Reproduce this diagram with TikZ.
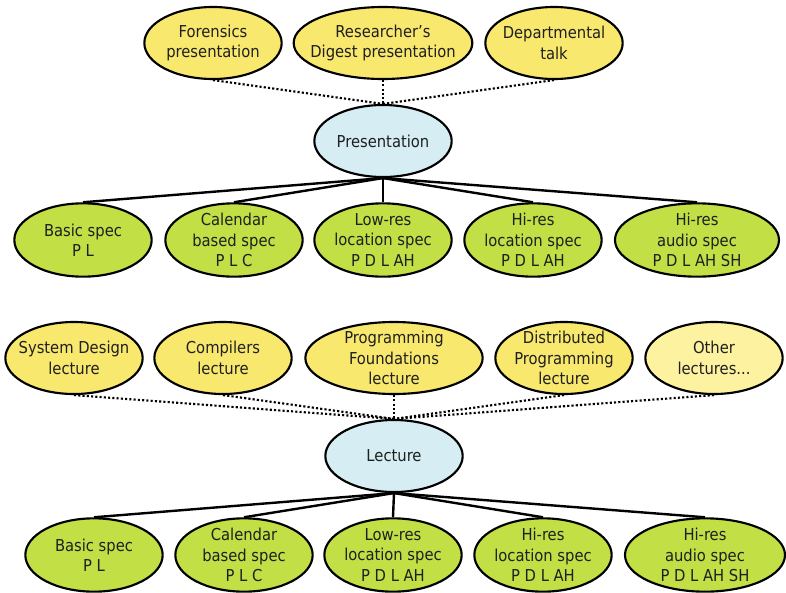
\documentclass[tikz,border=0pt]{standalone}
\usepackage{fontspec}
\setmainfont{DejaVu Sans Condensed}
\usetikzlibrary{shapes.geometric,positioning}
\definecolor{kindfill}{RGB}{249,232,110}
\definecolor{otherfill}{RGB}{253,242,160}
\definecolor{hubfill}{RGB}{214,238,243}
\definecolor{specfill}{RGB}{194,223,70}
\tikzset{blob/.style={ellipse, draw=black, line width=1.6pt, inner xsep=-12pt, inner ysep=-7pt, align=center, text=black!88, font=\fontsize{12.3}{15.2}\selectfont, minimum width=103pt, minimum height=54pt},
  kind/.style={blob, fill=kindfill},
  hub/.style={blob, fill=hubfill},
  spec/.style={blob, fill=specfill, minimum height=55pt},
  link/.style={line width=1.8pt},
  dotlink/.style={line width=1.6pt, dash pattern=on 1.6pt off 1.6pt}}

\begin{document}
\begin{tikzpicture}[x=0.75pt,y=-0.75pt]
    \useasboundingbox (0,0) rectangle (786,593);
    % presentation part
    \node[kind] (P1) at (213,43) {Forensics\\presentation};
    \node[kind,minimum width=134pt] (P2) at (383,43) {Researcher's\\Digest presentation};
    \node[kind] (P3) at (554,43) {Departmental\\talk};
    \node[hub] (Pres) at (383,141) {Presentation};
    \node[spec] (PS1) at (83,240) {Basic spec\\P L};
    \node[spec] (PS2) at (234,240) {Calendar\\based spec\\P L C};
    \node[spec] (PS3) at (383,240) {Low-res\\location spec\\P D L AH};
    \node[spec] (PS4) at (533,240) {Hi-res\\location spec\\P D L AH};
    \node[spec,minimum width=123pt] (PS5) at (697,240) {Hi-res\\audio spec\\P D L AH SH};
    % lecture part
    \node[kind] (L1) at (74,358) {System Design\\lecture};
    \node[kind] (L2) at (223,358) {Compilers\\lecture};
    \node[kind,minimum width=133pt] (L3) at (394,358) {Programming\\Foundations\\lecture};
    \node[kind] (L4) at (564,358) {Distributed\\Programming\\lecture};
    \node[kind,fill=otherfill] (L5) at (714,358) {Other\\lectures...};
    \node[hub] (Lect) at (394,456) {Lecture};
    \node[spec] (LS1) at (94,555) {Basic spec\\P L};
    \node[spec] (LS2) at (244,555) {Calendar\\based spec\\P L C};
    \node[spec] (LS3) at (393,555) {Low-res\\location spec\\P D L AH};
    \node[spec] (LS4) at (543,555) {Hi-res\\location spec\\P D L AH};
    \node[spec,minimum width=120pt] (LS5) at (705,555) {Hi-res\\audio spec\\P D L AH SH};
    % connectors
    \foreach \i in {1,2,3} \draw[dotlink] (P\i.south) -- (Pres.north);
    \foreach \i in {1,...,5} \draw[link] (Pres.south) -- (PS\i.north);
    \foreach \i in {1,...,5} \draw[dotlink] (L\i.south) -- (Lect.north);
    \foreach \i in {1,...,5} \draw[link] (Lect.south) -- (LS\i.north);
\end{tikzpicture}
\end{document}
